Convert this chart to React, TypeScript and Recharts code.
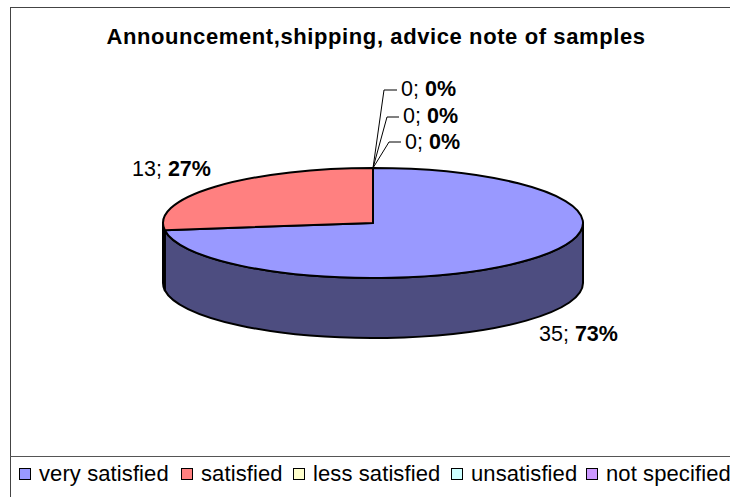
import React from 'react';
import { PieChart, Pie, Legend } from 'recharts';

const categories = ['very satisfied', 'satisfied', 'less satisfied', 'unsatisfied', 'not specified'];
const values = [35, 13, 0, 0, 0];
const percents = ['73%', '27%', '0%', '0%', '0%'];
const topColors = ['#9999FF', '#FF8080', '#FFFFCC', '#CCFFFF', '#CC99FF'];
const wallColors = ['#4D4D80', '#804040', '#808066', '#668080', '#664D80'];

const FONT = '"Liberation Sans", Arial, sans-serif';
const SQUASH = 55 / 210; // ellipse ry / rx
const DEPTH = 60;

// where each data label goes, and the elbow of its leader line (null = no leader)
const labelX = [539, 132, 401, 403, 405];
const labelY = [341, 176, 96, 123, 149];
const elbowX = [null, null, 384, 387, 389];
const elbowY = [null, null, 90, 117, 142];
const legendX = [19, 181, 293, 451, 586];

const data = categories.map((name, i) => ({
  name,
  value: values[i],
  fill: topColors[i],
  wall: wallColors[i],
}));

const RAD = Math.PI / 180;

const point = (cx: number, cy: number, r: number, deg: number, dy = 0) =>
  `${(cx + r * Math.cos(deg * RAD)).toFixed(2)} ${(cy - r * SQUASH * Math.sin(deg * RAD) + dy).toFixed(2)}`;

// top face plus the front wall of one slice
const Slice3D = (props: any) => {
  const { cx, cy, outerRadius: r, startAngle, endAngle, fill, payload } = props;
  if (!payload || payload.value === 0) return <g />;
  const ry = r * SQUASH;
  const large = Math.abs(startAngle - endAngle) > 180 ? 1 : 0;
  const top = `M ${cx} ${cy} L ${point(cx, cy, r, startAngle)} A ${r} ${ry} 0 ${large} 1 ${point(cx, cy, r, endAngle)} Z`;

  // front half of the disc runs 0 to -180 degrees; angles here go clockwise
  const from = Math.min(startAngle, 0);
  const to = Math.max(endAngle, -180);
  let wall = null;
  if (startAngle > -180 && endAngle < 0 && from > to) {
    const d =
      `M ${point(cx, cy, r, from)} A ${r} ${ry} 0 0 1 ${point(cx, cy, r, to)} ` +
      `L ${point(cx, cy, r, to, DEPTH)} A ${r} ${ry} 0 0 0 ${point(cx, cy, r, from, DEPTH)} Z`;
    wall = <path d={d} fill={payload.wall} stroke="#000" strokeWidth={2} strokeLinejoin="round" />;
  }
  return (
    <g>
      {wall}
      <path d={top} fill={fill} stroke="#000" strokeWidth={2} strokeLinejoin="round" />
    </g>
  );
};

const renderLabel = (props: any) => {
  const { index, cx, cy, outerRadius: r, midAngle } = props;
  const x = labelX[index];
  const y = labelY[index];
  const ex = elbowX[index];
  const ey = elbowY[index];
  const sx = cx + r * Math.cos(midAngle * RAD);
  const sy = cy - r * SQUASH * Math.sin(midAngle * RAD);
  return (
    <g key={index}>
      {ex !== null && (
        <polyline
          points={`${sx},${sy} ${ex},${ey} ${x - 4},${ey}`}
          fill="none"
          stroke="#000"
          strokeWidth={1}
        />
      )}
      <text x={x} y={y} fontFamily={FONT} fontSize={21.5} fill="#000">
        {values[index]}; <tspan fontWeight="bold">{percents[index]}</tspan>
      </text>
    </g>
  );
};

const renderLegend = () => (
  <div style={{ position: 'relative', width: 730, height: 40 }}>
    {categories.map((name, i) => (
      <div
        key={name}
        style={{
          position: 'absolute',
          left: legendX[i],
          top: 3,
          display: 'flex',
          alignItems: 'center',
          fontFamily: FONT,
          fontSize: 22,
          letterSpacing: 0.1,
          lineHeight: '26px',
          whiteSpace: 'nowrap',
          color: '#000',
        }}
      >
        <span
          style={{
            display: 'inline-block',
            width: 10,
            height: 10,
            background: topColors[i],
            border: '1.5px solid #000',
            marginRight: 8,
          }}
        />
        {name}
      </div>
    ))}
  </div>
);

export default function App() {
  return (
    <div style={{ position: 'absolute', left: 0, top: 0, width: 730, height: 497, overflow: 'hidden', background: '#fff' }}>
      <div style={{ position: 'absolute', left: 10, top: 7, width: 740, height: 520, border: '1.5px solid #444' }} />
      <div style={{ position: 'absolute', left: 10, top: 456, width: 740, height: 0, borderTop: '1.5px solid #555' }} />
      <div style={{ position: 'absolute', left: 0, top: 0 }}>
        <PieChart width={730} height={497} margin={{ top: 0, right: 0, bottom: 0, left: 0 }}>
          <text x={376} y={44} textAnchor="middle" fontFamily={FONT} fontSize={22} letterSpacing={0.6} fontWeight="bold" fill="#000">
            Announcement,shipping, advice note of samples
          </text>
          <Pie
            data={data}
            dataKey="value"
            nameKey="name"
            cx={373}
            cy={223}
            outerRadius={210}
            startAngle={90}
            endAngle={-270}
            stroke="#000"
            shape={Slice3D}
            label={renderLabel}
            labelLine={false}
            isAnimationActive={false}
          />
          <Legend
            content={renderLegend}
            wrapperStyle={{ position: 'absolute', left: 0, top: 458, width: 730, bottom: 'auto' }}
          />
        </PieChart>
      </div>
    </div>
  );
}
